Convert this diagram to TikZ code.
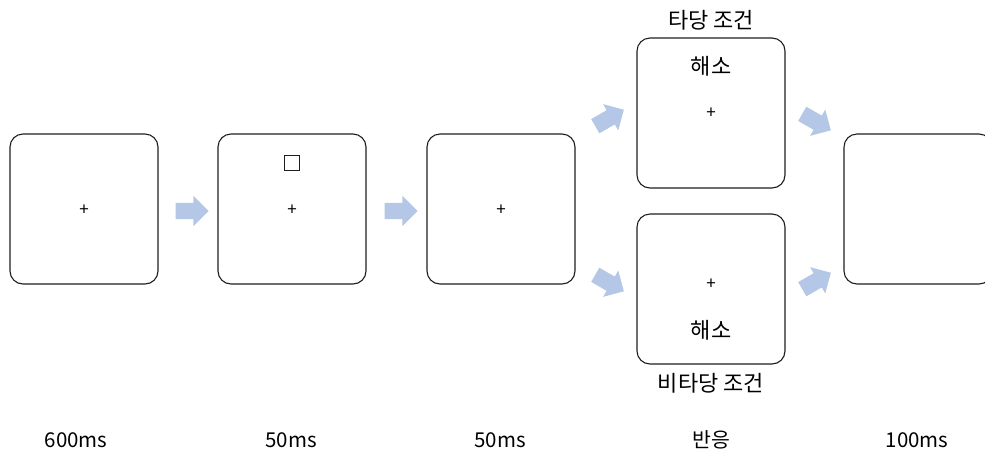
\documentclass[tikz,border=0pt]{standalone}
\usepackage{fontspec}
\setmainfont{Noto Sans CJK KR}
\usetikzlibrary{shapes.arrows,positioning}
\definecolor{arrowblue}{RGB}{180,199,231}
\definecolor{framegray}{RGB}{30,30,30}
\tikzset{
  screen/.style={draw=framegray, line width=1.1pt, rounded corners=13pt,
    minimum width=148pt, minimum height=150pt, inner sep=0pt},
  flow/.style={single arrow, fill=arrowblue, draw=none,
    inner xsep=0pt, inner ysep=8pt,
    minimum height=33pt,
    single arrow head extend=7pt, single arrow head indent=0pt},
  fix/.style={font=\fontsize{17}{17}\selectfont, inner sep=0pt},
  word/.style={font=\fontsize{22}{24}\selectfont, inner sep=0pt},
  timing/.style={font=\fontsize{20.5}{24}\selectfont, inner sep=0pt},
  cue/.style={draw=framegray, line width=1.2pt, minimum size=15pt, inner sep=0pt}
}
\begin{document}
\begin{tikzpicture}[x=1pt,y=1pt]
  \useasboundingbox (0,0) rectangle (985,-451);
  \clip (0,0) rectangle (985,-451);

  % screens of the trial sequence
  \node[screen] (s1) at (84,-209) {};
  \node[screen] (s2) at (292,-209) {};
  \node[screen] (s3) at (501,-209) {};
  \node[screen] (valid) at (711,-113) {};
  \node[screen] (invalid) at (711,-289) {};
  \node[screen] (s5) at (918,-209) {};

  % fixation crosses
  \node[fix] (f1) at (84,-210) {+};
  \node[fix] (f2) at (292,-210) {+};
  \node[fix] (f3) at (501,-210) {+};
  \node[fix] (fv) at (711,-113) {+};
  \node[fix] (fi) at (711,-284) {+};

  % cue square
  \node[cue] (cue) at (292,-163) {};

  % target words
  \node[word] (tv) at (711,-66) {해소};
  \node[word] (ti) at (711,-330) {해소};

  % condition labels
  \node[word] (lv) at (711,-20) {타당 조건};
  \node[word] (li) at (711,-383) {비타당 조건};

  % transitions
  \node[flow] (a1) at (188,-211) {};
  \node[flow] (a2) at (397,-211) {};
  \node[flow, rotate=30] (a3) at (606,-120) {};
  \node[flow, rotate=-30] (a4) at (606,-281) {};
  \node[flow, rotate=-30] (a5) at (813,-120) {};
  \node[flow, rotate=30] (a6) at (813,-283) {};

  % durations
  \node[timing] (d1) at (76,-440) {600ms};
  \node[timing] (d2) at (291,-440) {50ms};
  \node[timing] (d3) at (500,-440) {50ms};
  \node[timing] (d4) at (711,-440) {반응};
  \node[timing] (d5) at (917,-440) {100ms};
\end{tikzpicture}
\end{document}
